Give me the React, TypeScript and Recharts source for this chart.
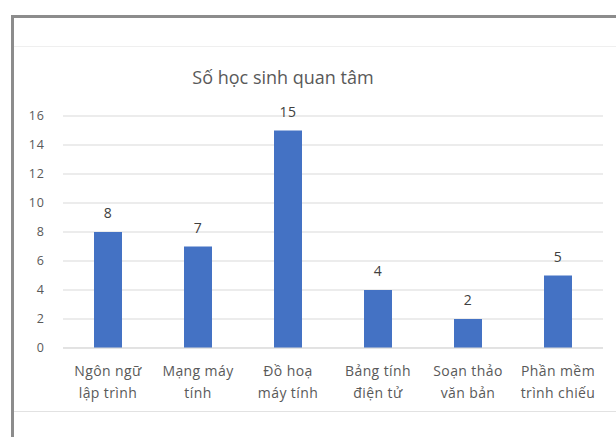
import { BarChart, Bar, XAxis, YAxis, CartesianGrid, LabelList } from 'recharts';

const categories = [
	'Ngôn ngữ lập trình',
	'Mạng máy tính',
	'Đồ hoạ máy tính',
	'Bảng tính điện tử',
	'Soạn thảo văn bản',
	'Phần mềm trình chiếu',
];
const students = [8, 7, 15, 4, 2, 5];
const yTicks = [0, 2, 4, 6, 8, 10, 12, 14, 16];

const title = 'Số học sinh quan tâm';
const font = '"Open Sans", "Noto Sans", sans-serif';

const data = categories.map((name, i) => ({ name, value: students[i] }));

// first two words on top line, rest below (matches all six labels)
function CategoryTick(props: any) {
	const { x, y, payload } = props;
	const words = String(payload.value).split(' ');
	const first = words.slice(0, 2).join(' ');
	const second = words.slice(2).join(' ');
	return (
		<text x={x} y={y} textAnchor="middle" fill="#595959" fontSize={14} letterSpacing={0.4} fontFamily={font}>
			<tspan x={x} dy={28}>{first}</tspan>
			<tspan x={x} dy={22}>{second}</tspan>
		</text>
	);
}

export default function App() {
	return (
		<div style={{ position: 'absolute', left: 0, top: 0, width: 616, height: 437, background: '#fff', overflow: 'hidden', fontFamily: font }}>
			<div style={{ position: 'absolute', left: 11, top: 15, width: 3, height: 422, background: '#8c8c8c' }} />
			<div style={{ position: 'absolute', left: 11, top: 15, width: 605, height: 3, background: '#8c8c8c' }} />
			<div style={{ position: 'absolute', left: 14, top: 46, width: 602, height: 1, background: '#efefef' }} />
			<div style={{ position: 'absolute', left: 14, top: 411, width: 602, height: 1, background: '#e2e2e2' }} />
			<div
				style={{
					position: 'absolute',
					left: 183,
					width: 200,
					top: 64,
					textAlign: 'center',
					fontSize: 18,
					color: '#595959',
					lineHeight: '26px',
					whiteSpace: 'nowrap',
				}}
			>
				{title}
			</div>
			<div style={{ position: 'absolute', left: 0, top: 0 }}>
				<BarChart width={616} height={437} data={data} margin={{ top: 116, right: 13, bottom: 29, left: 28 }}>
					<CartesianGrid vertical={false} stroke="#d9d9d9" />
					<XAxis
						dataKey="name"
						height={60}
						axisLine={{ stroke: '#d9d9d9' }}
						tickLine={false}
						tickSize={0}
						tickMargin={0}
						interval={0}
						tick={<CategoryTick />}
					/>
					<YAxis
						width={35}
						domain={[0, 16]}
						ticks={yTicks}
						axisLine={false}
						tickLine={false}
						tickSize={0}
						tickMargin={18}
						tick={{ fill: '#595959', fontSize: 12.5, letterSpacing: 1, fontFamily: font }}
					/>
					<Bar dataKey="value" fill="#4472c4" barSize={28} isAnimationActive={false}>
						<LabelList dataKey="value" position="top" offset={14} fill="#404040" fontSize={14} letterSpacing={0.6} fontFamily={font} />
					</Bar>
				</BarChart>
			</div>
		</div>
	);
}
